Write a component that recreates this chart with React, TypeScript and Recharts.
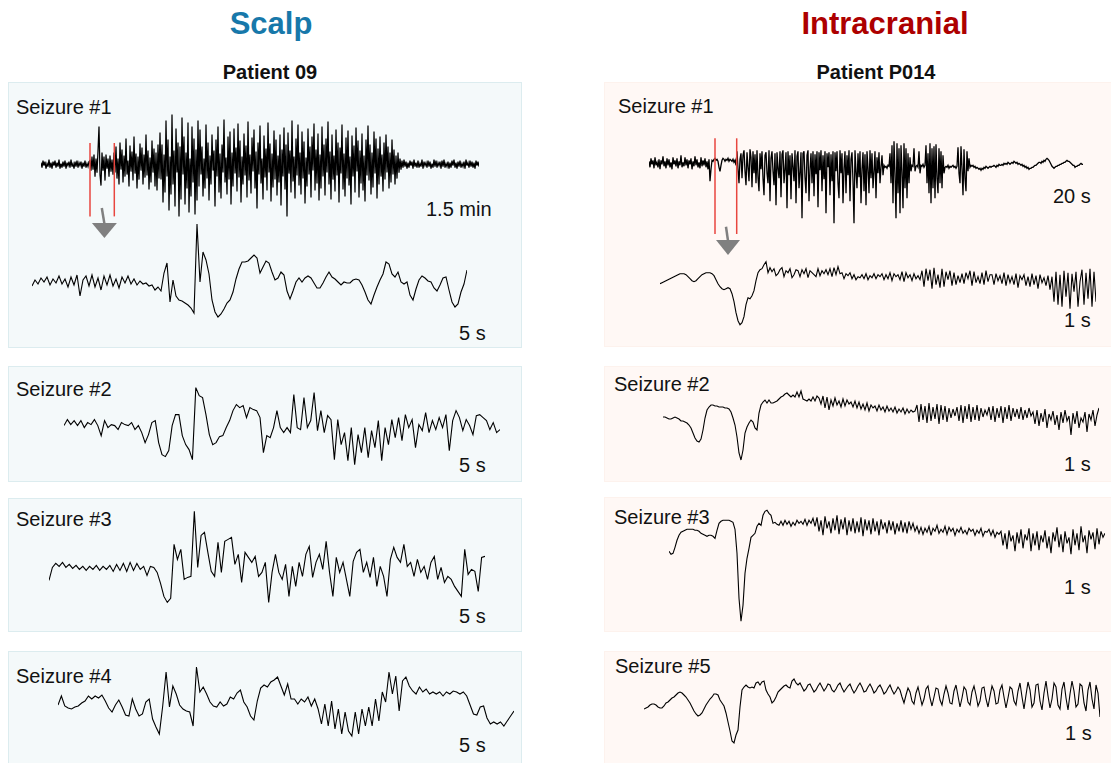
import React from 'react';
import { LineChart, Line, XAxis, YAxis, ReferenceLine, ReferenceDot } from 'recharts';

// ---------- Scalp (Patient 09) ----------
// Seizure #1 overview (1.5 min), one sample per step
const scalpOverviewA = [2,-3,4,-1,3,-4,1,-2,5,-3,2,-4,3,-1,4,-3,2,-2,5,-4,1,-3,3,-2,4,-4,2,-1,3,-3,5,-2,1,-4,3,-2,4,-3,2,-1,3,-4,2,-2,4,-3,1,-2,3];
const scalpOverviewB = [4,-6,8,-5,10,-12,6,-8,14,38,-10,-21,12,-6,8,-16,10,-4,6,-12,9,-7,5,-10];
const scalpOverviewC = [12,-8,18,-14,6,-20,22,-5,15,-18,9,-12,26,-10,4,-22,19,-7,13,-16,28,-9,11,-24,8,-15,21,-6,17,-20,10,-13,30,-11,14,-25,7,-18,24,-8,16,-22,12,-26,20,-14];
const scalpOverviewD = [32,-15,20,-38,10,-28,44,-12,25,-46,8,-30,50,-20,14,-42,36,-8,22,-52,18,-35,47,-10,28,-40,12,-24,42,-48,6,-32,38,-18,26,-50,15,-36,44,-22];
const scalpOverviewE = [
  35,-10,18,-32,6,-24,40,-14,22,-36,9,-20,30,-6,14,-42,25,-12,38,-28,
  11,-34,20,-8,45,-18,7,-30,28,-15,33,-40,12,-22,36,-9,17,-27,41,-13,
  24,-38,8,-20,31,-11,19,-33,43,-16,10,-29,27,-7,35,-24,13,-44,22,-10,
  39,-19,6,-35,29,-13,16,-26,42,-8,21,-37,11,-23,34,-15,25,-31,9,-18,
  30,-41,15,-12,37,-25,20,-52,32,-9,14,-28,44,-17,8,-34,26,-11,40,-21,
  12,-30,33,-14,23,-39,7,-22,36,-10,18,-33,28,-6,41,-26,15,-19,31,-36,
  10,-24,38,-12,20,-31,26,-8,43,-20,13,-35,30,-15,9,-27,35,-11,22,-38,
  17,-9,40,-25,11,-32,27,-14,34,-21,8,-40,29,-12,19,-28,37,-7,24,-33,
  14,-19,31,-26,9,-37,25,-11,39,-16,20,-30,12,-23,33,-9,26,-34,16,-20,
  28,-12,10,-27,22,-15,30,-8,18,-24,12,-18,25,-10,15,-20,9,-14,12,-8,
  6,-5,
];
const scalpOverviewF = [
  4,-3,5,-2,3,-4,2,-3,4,-1,3,-4,5,-2,2,-3,4,-3,1,-2,5,-4,3,-1,2,-3,4,-2,3,-4,
  1,-3,5,-2,4,-3,2,-1,3,-4,4,-2,5,-3,1,-2,3,-4,2,-3,4,-1,5,-3,2,-4,3,-2,4,-3,
  1,-2,3,-4,5,-1,2,-3,4,-2,3,-3,2,-4,4,-1,3,-2,
];
const scalpOverview = [...scalpOverviewA, ...scalpOverviewB, ...scalpOverviewC, ...scalpOverviewD, ...scalpOverviewE, ...scalpOverviewF];
const scalpWindow = [49, 73.3]; // sample indices bounding the zoomed 5 s window

// Seizure #1 zoomed (5 s)
const scalpS1Detail = [
  -4,2,-2,4,0,5,-3,3,-1,6,-2,3,-5,5,-3,7,-14,2,6,-4,7,-5,4,-8,6,-3,7,-4,3,-6,5,-1,6,-2,3,-3,1,-2,-1,-4,-3,-8,-5,-9,
  9,19,-20,2,-14,-18,-19,-21,-23,-26,-31,58,0,30,22,8,-18,-30,-35,-32,-27,-21,-18,-10,3,13,20,20,21,24,
  27,24,9,15,21,19,10,2,4,10,7,-9,-17,-9,0,4,0,4,6,4,-1,-6,-6,-1,5,10,5,3,0,-3,
  0,-1,-1,2,3,2,-3,-10,-18,-22,-13,-5,2,8,20,18,8,5,10,0,-2,0,-13,-18,-7,2,6,4,1,0,
  -6,-9,-3,4,5,-8,-20,-25,-22,-10,-2,12,
];
const scalpS2 = [
  2,8,3,7,2,7,0,5,3,8,2,-8,7,0,3,2,-2,5,3,2,5,-2,2,-5,-15,-7,5,7,-15,-27,
  -29,-23,2,13,13,-8,-17,-22,-32,40,32,30,13,-7,-17,-15,-9,-8,0,7,17,23,20,22,10,20,18,17,10,-25,
  -8,-10,0,17,0,-5,0,-5,33,0,-2,30,0,7,35,-3,17,-5,12,8,-32,8,-17,-5,-33,0,-37,-7,-25,0,
  -30,-3,-20,7,-33,0,-17,8,-10,10,-13,13,0,8,-20,3,-3,15,-5,7,-2,10,0,13,-23,7,17,10,-3,8,
  2,-7,12,13,10,7,-2,5,-5,-2,
];
const scalpS3 = [
  -11,2,6,3,7,2,5,1,4,0,3,-1,3,0,4,-1,3,0,4,-2,5,-1,6,-2,7,-1,6,0,3,-6,3,2,
  -3,-14,-27,-33,-29,25,10,20,-10,-8,-7,58,2,34,37,17,-2,-7,27,-3,28,30,32,5,15,-13,17,12,7,13,
  -7,-3,7,-33,-3,15,-3,-10,5,-27,3,-17,7,-7,15,23,-8,7,15,0,28,-3,-27,12,-3,7,-10,-27,8,17,
  20,-3,7,-8,12,-17,3,-7,-27,10,22,12,7,25,3,7,-7,10,-3,3,-10,7,13,-10,2,-13,-7,-10,-17,-22,
  -27,20,-5,0,-2,-22,12,13,
];
const scalpS4 = [
  -1,8,-2,-4,-5,-3,-2,1,3,8,5,8,6,9,3,-4,-8,-1,4,-3,-11,-12,5,-5,-12,-10,2,5,-15,-23,
  -30,-2,32,-3,18,10,-1,-5,-7,-8,-22,37,12,17,10,2,-2,-3,2,-2,0,7,5,11,14,2,-3,-12,-16,3,
  16,19,17,22,24,27,18,9,20,5,5,0,5,2,7,-2,5,-5,-20,0,-22,3,-25,-5,-30,-8,-27,-32,-8,-30,
  -5,-22,-3,-22,5,-17,12,2,32,10,28,-7,23,27,18,13,10,17,12,15,10,12,10,12,8,12,10,13,12,10,
  12,8,-1,-10,-11,-3,-2,-14,-20,-18,-20,-18,-22,-17,-12,-7,
];

// ---------- Intracranial (Patient P014) ----------
const icPre = [2,-4,5,-1,3,-5,6,-2,1,-4,4,-6,3,-1,7,-3,2,-5,5,-2,4,-4,1,-6,6,-1,3,-3,5,-5,2,-2,8,-4,1,-3,6,-2,4,-5,3,-1,5,-6,2,-3,7,-2,4,-4,1,-5,6,-3,3,-2,5,-4,2,-6,4,-18,-6,3,2,4];
const icWin = [5,3,4,2,-4,-8,-2,3,5,4,2,4,3,5,2,4,3,2,4,1,3,-2];
const icOnset = [12,-6,-20,4,10,-15,8,13,-8,-22,11,-4,-18,14,6,-24,12,-10,9,-20,13,-14];
const icIctalA = [
  -28,10,-6,12,-15,-32,8,11,-10,-20,13,-38,5,12,-8,-22,10,-42,11,-5,-15,12,-34,9,13,-20,-6,11,-45,12,
  -12,8,-36,10,-3,-18,13,-40,7,12,-25,-9,11,-55,10,12,-14,-30,8,13,-38,-6,10,-20,12,-33,9,-11,12,-44,
  11,-7,13,-28,8,-16,12,-50,10,-4,11,-32,9,-18,12,
];
const icIctalB = [
  -60,11,-8,12,-20,-35,13,-10,10,-40,-5,12,-30,8,-12,13,-38,4,11,-18,-60,13,-8,-25,10,-14,12,-40,-6,11,
  -28,9,-42,12,-5,-30,13,-15,10,-25,-8,12,-35,6,-10,11,-20,-4,8,-12,
];
const icBursts = [
  -2,-4,-3,-5,-2,-3,
  10,-20,18,-40,22,-10,-55,20,-30,15,-50,18,-8,-45,20,-25,15,-35,10,-20,6,-8,
  -2,-3,15,-8,-3,-2,-4,12,-10,-2,-3,-1,-4,-2,
  18,-20,10,-30,20,-40,15,-25,17,-35,19,-15,-30,15,-20,12,-25,8,-10,-4,
  -3,-4,-2,-5,-3,-4,-3,-2,-4,-3,-5,-3,
  16,-10,-20,17,-5,-32,14,-15,-28,12,-8,5,-4,-2,
];
const icPost = [
  -3,-2,-4,-3,-5,-4,-5,-6,-5,-7,-5,-6,
  -4,-5,-3,-4,-5,-4,-3,-4,-3,-3,-2,-3,-4,-2,-3,-1,-2,
  -2,-1,-2,0,-1,0,-1,1,0,-1,0,1,0,2,1,0,1,-1,0,-1,
  -2,-1,-3,-2,-4,-3,-5,-4,-6,-5,-5,-4,-4,
  -3,-2,-2,-1,0,1,1,0,2,1,3,2,4,
  5,4,3,1,-1,-3,-4,-5,-4,-3,
  -3,-2,-2,-1,-1,0,0,1,1,2,3,2,2,1,
  0,-1,-2,-2,-4,-3,-3,-2,-2,-1,0,-1,-1,
];
const icS1Overview = [...icPre, ...icWin, ...icOnset, ...icIctalA, ...icIctalB, ...icBursts, ...icPost];
const icWindow = [66, 87.7];

const icS1Detail = [
  -7,-6,-5,-4,-3,-2,-1,0,1,2,3,3,3,2,0,-2,-4,-5,-4,-2,0,2,3,4,4,4,3,1,-3,-7,
  -10,-12,-13,-12,-11,-12,-17,-25,-36,-44,-48,-46,-40,-28,-21,-22,-19,-14,-4,4,7,8,12,
  15,4,9,5,8,1,3,7,9,0,6,4,8,-1,2,7,6,0,
  7,3,8,-1,6,4,2,0,8,1,6,3,7,2,8,0,9,2,10,3,
  4,-2,3,1,4,-2,2,-3,0,-1,2,-2,3,-3,1,-1,3,-2,2,0,
  3,-3,2,-2,4,-4,3,0,2,-3,5,-5,4,-1,2,-4,3,-2,1,-3,
  6,-10,8,-4,7,-12,9,-8,2,-11,8,-10,5,-3,6,-9,4,-8,1,-6,3,-7,4,-2,6,-9,5,-6,0,-7,4,-8,6,-5,2,
  2,-8,3,-4,1,-7,4,-9,2,-6,0,-8,3,-11,1,-3,2,-9,0,-10,3,-8,1,-12,2,-6,-1,-9,1,-13,0,
  -25,5,-28,2,-30,6,-20,4,-32,3,-15,5,-30,-5,7,-28,4,-22,8,-30,5,-25,
];
const icS2 = [
  -7,-7,-8,-9,-9,-8,-7,-8,-9,-11,-11,-12,-13,-15,-18,-23,-28,-31,-32,-29,
  -20,-8,0,3,5,5,4,4,3,3,3,2,2,1,-2,-8,-15,-27,-43,-50,
  -40,-23,-17,-13,-10,-12,-18,-20,-3,5,8,10,7,10,7,7,8,9,11,13,
  14,16,17,15,13,15,13,18,13,19,11,10,9,11,9,13,9,14,
  12,6,14,2,13,0,10,4,12,5,9,3,11,4,10,6,8,3,
  9,2,8,1,6,0,7,-1,5,2,4,-1,5,0,3,-2,4,-1,
  2,-2,3,-3,1,-2,2,-4,1,-3,0,-2,-1,
  5,-12,6,-10,4,-13,7,-11,3,-9,6,-14,5,-10,4,-12,2,-8,1,-6,3,-11,5,-13,4,-9,6,-12,3,-10,
  5,-11,2,-7,0,-5,3,-10,4,-12,2,-8,4,-13,3,-9,5,-11,2,-7,1,-9,3,-10,0,-8,2,-6,
  -2,-14,0,-16,-3,-12,1,-18,-4,-10,-1,-15,-5,-20,-2,-13,0,-11,-6,-25,-3,-14,-1,-18,-8,-12,-2,-22,-4,-10,0,-16,-5,2,
];
const icS3 = [
  -28,-31,-30,-24,-17,-12,-9,-8,-7,-6,-6,-6,-6,-7,-7,-8,-10,-11,-12,-13,
  -12,-12,-13,-15,-7,0,2,3,3,3,3,2,1,-6,-30,-75,-98,-82,-50,-35,
  -25,-14,-12,-10,-3,0,-2,8,12,13,10,8,0,1,-1,-2,
  2,-2,3,-1,2,-3,1,-2,3,0,2,-1,4,-2,3,0,5,-3,
  6,-8,3,-12,7,-5,2,-10,5,-7,8,-11,4,-6,6,-12,3,-8,5,-10,2,-9,6,-13,4,-7,3,-11,5,-8,
  2,-12,4,-6,1,-10,3,-7,2,-11,0,-8,3,-9,1,-10,2,-6,0,-8,
  -3,-10,-4,-11,-5,-9,-3,-12,-5,-8,-2,-10,-6,-9,-3,-11,-4,-8,-5,-12,-6,-9,-4,-10,-7,-11,-5,-8,-6,-12,
  -7,-10,-5,-13,-8,-9,-6,-12,-7,-14,-9,-11,
  -8,-22,-10,-26,-7,-18,-12,-28,-9,-20,-6,-25,-11,-17,-5,-28,-10,-22,-8,-27,-12,-19,-7,-25,-13,-30,
  -9,-18,-4,-24,-11,-29,-8,-20,-14,-31,-6,-22,-10,-27,-3,-19,-12,-30,-7,-16,-9,-26,-5,-21,-8,-14,-10,
];
const icS5 = [
  -14,-13,-12,-10,-9,-9,-10,-12,-13,-13,-11,-8,-7,-5,-3,-2,0,2,3,2,
  0,-2,-5,-8,-12,-16,-19,-21,-20,-18,-14,-10,-7,-4,-2,1,1,0,-5,-8,
  -11,-18,-27,-36,-46,-48,-40,-35,-12,5,8,10,8,7,8,7,12,13,10,13,
  14,5,1,-2,-8,-6,-2,3,5,7,9,10,8,7,14,16,12,
  10,12,8,4,6,10,11,7,3,5,9,12,8,4,7,11,10,5,3,6,10,12,7,3,6,9,11,6,2,5,9,12,8,3,4,8,11,7,2,4,8,10,6,1,3,7,10,5,1,4,8,
  5,-2,-8,0,7,3,-6,-9,2,8,-1,-10,-4,6,9,-3,-11,-2,7,6,-5,-10,1,9,2,-8,-9,4,10,-1,
  -12,-3,8,5,-7,-10,3,9,0,-11,-6,7,8,-4,-12,-1,9,4,-9,-8,5,10,-2,-13,-3,8,6,-6,-10,
  4,12,-2,-14,0,13,5,-12,-8,10,11,-6,-15,2,14,-1,-13,-4,12,8,-10,-14,6,13,-3,-15,1,14,4,-12,
  -9,11,9,-8,-16,5,13,-4,-14,10,2,-22,
];

const FONT = '"Liberation Sans", Arial, Helvetica, sans-serif';
const RED = '#e8463f';
const GREY = '#808080';

type TraceProps = {
  values: number[];
  left: number;
  top: number;
  width: number;
  height: number;
  yMin: number;
  yMax: number;
  strokeWidth?: number;
  children?: React.ReactNode;
};

function Trace({ values, left, top, width, height, yMin, yMax, strokeWidth = 1.1, children }: TraceProps) {
  const data = values.map((v, i) => ({ i, v }));
  return (
    <div style={{ position: 'absolute', left, top, width, height }}>
      <LineChart width={width} height={height} data={data} margin={{ top: 0, right: 0, bottom: 0, left: 0 }}>
        <XAxis dataKey="i" type="number" domain={[0, values.length - 1]} hide />
        <YAxis type="number" domain={[yMin, yMax]} hide />
        <Line dataKey="v" type="linear" stroke="#000" strokeWidth={strokeWidth} dot={false} isAnimationActive={false} />
        {children}
      </LineChart>
    </div>
  );
}

type TextProps = { x: number; cy: number; size?: number; bold?: boolean; color?: string; center?: boolean; children: React.ReactNode };
function Txt({ x, cy, size = 20, bold = false, color = '#111', center = false, children }: TextProps) {
  return (
    <div
      style={{
        position: 'absolute',
        left: x,
        top: cy - 0.49 * size,
        fontSize: size,
        lineHeight: `${size}px`,
        fontWeight: bold ? 700 : 400,
        color,
        whiteSpace: 'nowrap',
        transform: center ? 'translateX(-50%)' : undefined,
        fontFamily: FONT,
      }}
    >
      {children}
    </div>
  );
}

function Panel({ left, top, width, height, fill, border }: { left: number; top: number; width: number; height: number; fill: string; border: string }) {
  return (
    <div
      style={{
        position: 'absolute',
        left,
        top,
        width,
        height,
        background: fill,
        border: `1.5px solid ${border}`,
        boxSizing: 'border-box',
      }}
    />
  );
}

const triangle = (w: number, h: number) => (p: any) => (
  <polygon points={`${p.cx - w / 2},${p.cy} ${p.cx + w / 2},${p.cy} ${p.cx},${p.cy + h}`} fill={GREY} />
);

export default function App() {
  const LF = '#f4f9fa';
  const LB = '#dcecef';
  const RF = '#fff8f5';
  const RB = '#fdf2ed';
  return (
    <div style={{ position: 'absolute', left: 0, top: 0, width: 1111, height: 763, background: '#fff', overflow: 'hidden', fontFamily: FONT }}>
      {/* titles */}
      <Txt x={271} cy={23} size={31} bold color="#1778aa" center>Scalp</Txt>
      <Txt x={885} cy={23} size={31} bold color="#ad0000" center>Intracranial</Txt>
      <Txt x={270} cy={72} size={20} bold center>Patient 09</Txt>
      <Txt x={876} cy={72} size={20} bold center>Patient P014</Txt>

      {/* panels */}
      <Panel left={8} top={82} width={514} height={266} fill={LF} border={LB} />
      <Panel left={8} top={366} width={514} height={116} fill={LF} border={LB} />
      <Panel left={8} top={498} width={514} height={134} fill={LF} border={LB} />
      <Panel left={8} top={651} width={514} height={120} fill={LF} border={LB} />
      <Panel left={604} top={82} width={510} height={265} fill={RF} border={RB} />
      <Panel left={604} top={366} width={510} height={116} fill={RF} border={RB} />
      <Panel left={604} top={497} width={510} height={135} fill={RF} border={RB} />
      <Panel left={604} top={651} width={510} height={120} fill={RF} border={RB} />

      {/* panel labels */}
      <Txt x={16} cy={106.5}>Seizure #1</Txt>
      <Txt x={16} cy={389}>Seizure #2</Txt>
      <Txt x={16} cy={519}>Seizure #3</Txt>
      <Txt x={16} cy={676}>Seizure #4</Txt>
      <Txt x={618} cy={106}>Seizure #1</Txt>
      <Txt x={614} cy={383.5}>Seizure #2</Txt>
      <Txt x={614} cy={517}>Seizure #3</Txt>
      <Txt x={615} cy={666}>Seizure #5</Txt>

      {/* scale labels */}
      <Txt x={426} cy={209}>1.5 min</Txt>
      <Txt x={459} cy={333}>5 s</Txt>
      <Txt x={459} cy={465}>5 s</Txt>
      <Txt x={459} cy={616}>5 s</Txt>
      <Txt x={459} cy={745}>5 s</Txt>
      <Txt x={1053} cy={196}>20 s</Txt>
      <Txt x={1064} cy={320}>1 s</Txt>
      <Txt x={1064} cy={464}>1 s</Txt>
      <Txt x={1064} cy={587}>1 s</Txt>
      <Txt x={1065} cy={733}>1 s</Txt>

      {/* scalp traces */}
      <Trace values={scalpOverview} left={40.6} top={110} width={438} height={135} yMin={-80.4} yMax={54.6} strokeWidth={1.25}>
        <ReferenceLine segment={[{ x: scalpWindow[0], y: 21.6 }, { x: scalpWindow[0], y: -51.8 }]} stroke={RED} strokeWidth={1.5} />
        <ReferenceLine segment={[{ x: scalpWindow[1], y: 21.6 }, { x: scalpWindow[1], y: -51.8 }]} stroke={RED} strokeWidth={1.5} />
        <ReferenceLine segment={[{ x: 60.8, y: -43.4 }, { x: 63.4, y: -59 }]} stroke={GREY} strokeWidth={2.5} />
        <ReferenceDot x={63.4} y={-58.4} r={1} shape={triangle(25, 15)} />
      </Trace>
      <Trace values={scalpS1Detail} left={32} top={218} width={435} height={102} yMin={-38} yMax={64} />
      <Trace values={scalpS2} left={64.2} top={380} width={436} height={95} yMin={-47.4} yMax={47.6} />
      <Trace values={scalpS3} left={49} top={505} width={436} height={110} yMin={-45.6} yMax={64.4} />
      <Trace values={scalpS4} left={58.1} top={655} width={456} height={95} yMin={-46} yMax={49} />

      {/* intracranial traces */}
      <Trace values={icS1Overview} left={649} top={130} width={434} height={135} yMin={-101.7} yMax={33.3} strokeWidth={1.3}>
        <ReferenceLine segment={[{ x: icWindow[0], y: 25 }, { x: icWindow[0], y: -70.7 }]} stroke={RED} strokeWidth={1.5} />
        <ReferenceLine segment={[{ x: icWindow[1], y: 25 }, { x: icWindow[1], y: -70.7 }]} stroke={RED} strokeWidth={1.5} />
        <ReferenceLine segment={[{ x: 77, y: -63.4 }, { x: 79, y: -77.5 }]} stroke={GREY} strokeWidth={2.5} />
        <ReferenceDot x={79} y={-76.7} r={1} shape={triangle(24, 15)} />
      </Trace>
      <Trace values={icS1Detail} left={660} top={250} width={436} height={80} yMin={-53.3} yMax={26.7} />
      <Trace values={icS2} left={663.3} top={378} width={436} height={92} yMin={-60} yMax={32} />
      <Trace values={icS3} left={669.3} top={505} width={436} height={125} yMin={-106.7} yMax={18.3} />
      <Trace values={icS5} left={644.3} top={665} width={456} height={90} yMin={-60} yMax={30} />
    </div>
  );
}
